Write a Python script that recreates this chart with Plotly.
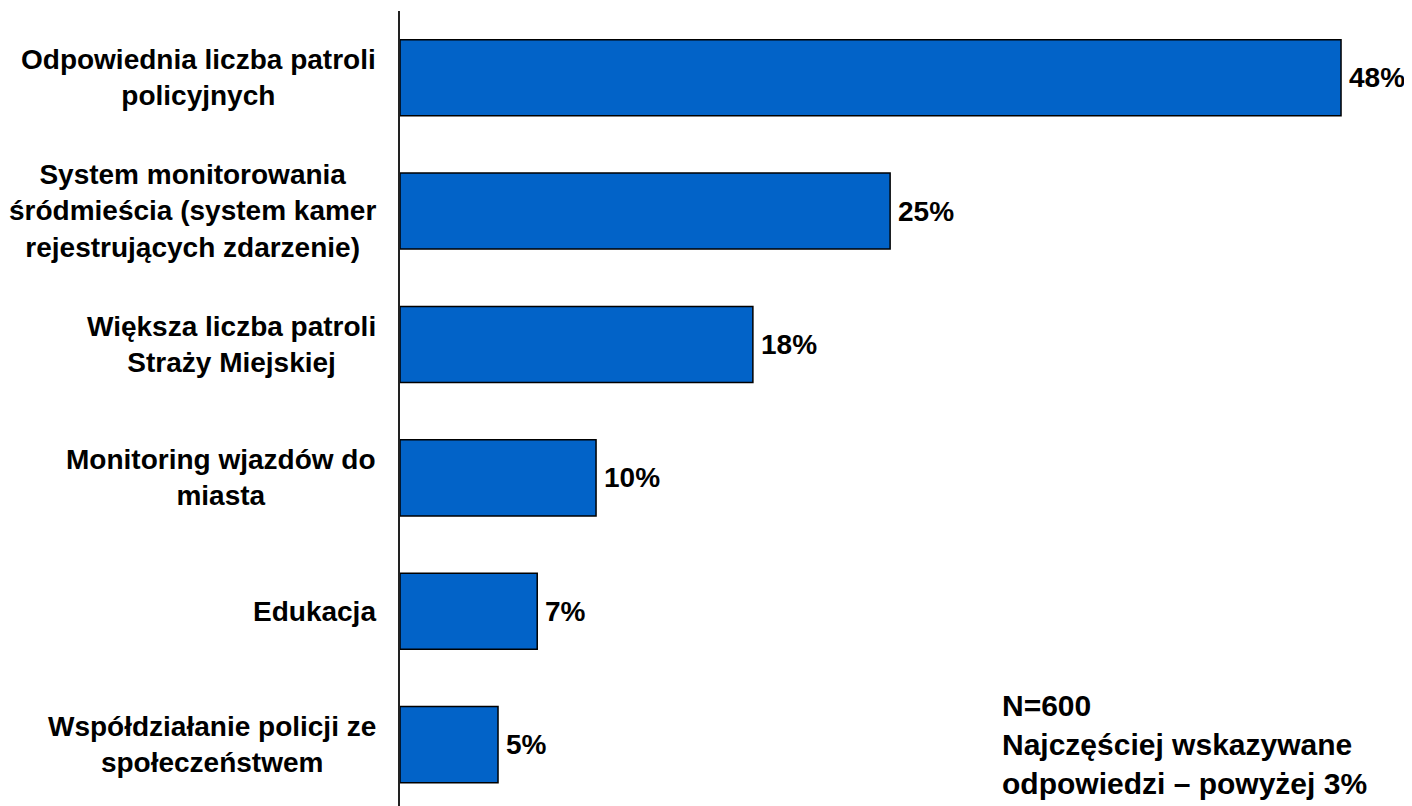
import plotly.graph_objects as go

categories = [
    "Odpowiednia liczba patroli<br>policyjnych",
    "System monitorowania<br>śródmieścia (system kamer<br>rejestrujących zdarzenie)",
    "Większa liczba patroli<br>Straży Miejskiej",
    "Monitoring wjazdów do<br>miasta",
    "Edukacja",
    "Współdziałanie policji ze<br>społeczeństwem",
]
values = [48, 25, 18, 10, 7, 5]
note = "N=600<br>Najczęściej wskazywane<br>odpowiedzi – powyżej 3%"

family = "Arial, Liberation Sans, sans-serif"
ypos = list(range(len(categories)))

fig = go.Figure(go.Bar(
    x=values,
    y=ypos,
    orientation="h",
    width=0.57,
    marker=dict(color="#0263C8", line=dict(color="black", width=1.5)),
    showlegend=False,
    hoverinfo="skip",
))

# category labels as annotations so multi-line text is centred
for i, c in enumerate(categories):
    fig.add_annotation(
        x=0, y=i, xref="x", yref="y", text=c, showarrow=False,
        xanchor="right", yanchor="middle", align="center", xshift=-22,
        font=dict(family=family, size=28, color="black", weight="bold"),
    )

# value labels
for i, v in enumerate(values):
    fig.add_annotation(
        x=v, y=i, xref="x", yref="y", text=f"{v}%", showarrow=False,
        xanchor="left", yanchor="middle", xshift=6,
        font=dict(family=family, size=28, color="black", weight="bold"),
    )

fig.add_annotation(
    x=0.593, y=0.15, xref="paper", yref="paper", text=note, showarrow=False,
    xanchor="left", yanchor="top", align="left",
    font=dict(family=family, size=30, color="black", weight="bold"),
)

# page body has an 8px margin, so the figure is a bit smaller than the window
fig.update_layout(
    width=1404, height=798,
    margin=dict(l=392, r=0, t=3, b=0, autoexpand=False),
    plot_bgcolor="white", paper_bgcolor="white",
    xaxis=dict(range=[0, 51.62], visible=False),
    yaxis=dict(range=[5.46, -0.5], showticklabels=False, showgrid=False,
               zeroline=False, showline=True, linecolor="#222", linewidth=2,
               ticks=""),
)

fig.write_html("out.html")
